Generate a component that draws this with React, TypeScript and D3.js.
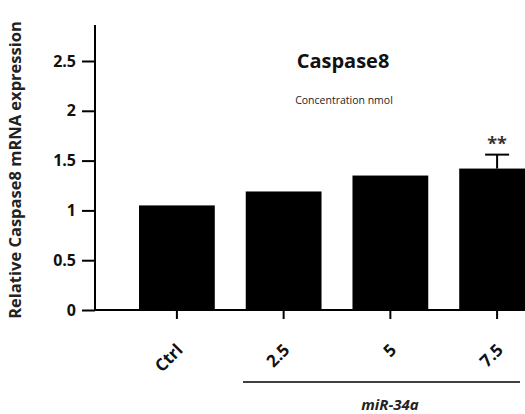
import React, { useEffect, useRef } from 'react';
import { select, scaleLinear, scaleBand, axisLeft, axisBottom } from 'd3';

// values
const categories = ['Ctrl', '2.5', '5', '7.5'];
const values = [1.05, 1.19, 1.35, 1.42];
const errors = [0, 0, 0, 0.14];
const significance = ['', '', '', '**'];
const yTicks = [0, 0.5, 1, 1.5, 2, 2.5];
const yTickLabels = ['0', '0.5', '1', '1.5', '2', '2.5'];
const groupLabel = 'miR-34a';

const W = 525;
const H = 414;

const App: React.FC = () => {
  const svgRef = useRef<SVGSVGElement | null>(null);

  useEffect(() => {
    if (!svgRef.current) return;
    const svg = select(svgRef.current);
    svg.selectAll('*').remove();

    const font = "'Open Sans', 'DejaVu Sans', sans-serif";
    const axisX = 95;
    const baseY = 310;

    const y = scaleLinear().domain([0, 2.5]).range([baseY, 61]);
    const x = scaleBand<string>()
      .domain(categories)
      .range([123, 551])
      .paddingInner(0.29)
      .paddingOuter(0.15);

    // bars
    svg.append('g')
      .selectAll('rect')
      .data(values)
      .enter()
      .append('rect')
      .attr('x', (_d, i) => x(categories[i]) as number)
      .attr('y', (d) => y(d))
      .attr('width', x.bandwidth())
      .attr('height', (d) => baseY - y(d))
      .attr('fill', '#000');

    // error bars (upper only)
    const eb = svg.append('g');
    values.forEach((v, i) => {
      if (!errors[i]) return;
      const cx = (x(categories[i]) as number) + x.bandwidth() / 2;
      eb.append('line')
        .attr('x1', cx).attr('x2', cx)
        .attr('y1', y(v)).attr('y2', y(v + errors[i]))
        .attr('stroke', '#000').attr('stroke-width', 2);
      eb.append('line')
        .attr('x1', cx - 12).attr('x2', cx + 12)
        .attr('y1', y(v + errors[i])).attr('y2', y(v + errors[i]))
        .attr('stroke', '#000').attr('stroke-width', 2);
      if (significance[i]) {
        eb.append('text')
          .attr('x', cx)
          .attr('y', y(v + errors[i]) - 5)
          .attr('text-anchor', 'middle')
          .attr('font-family', font)
          .attr('font-weight', 'bold')
          .attr('font-size', 18)
          .attr('fill', '#333')
          .text(significance[i]);
      }
    });

    // y axis
    const yAxis = axisLeft(y)
      .tickValues(yTicks)
      .tickFormat((_d, i) => yTickLabels[i])
      .tickSize(13)
      .tickPadding(6);
    const gy = svg.append('g')
      .attr('transform', `translate(${axisX},0)`)
      .call(yAxis);
    gy.select('.domain').remove();
    gy.append('line')
      .attr('x1', 0).attr('x2', 0)
      .attr('y1', 25).attr('y2', baseY + 1)
      .attr('stroke', '#000').attr('stroke-width', 2);
    gy.selectAll('.tick line').attr('stroke', '#000').attr('stroke-width', 2);
    gy.selectAll('.tick text')
      .attr('font-family', font)
      .attr('font-weight', 'bold')
      .attr('font-size', 16)
      .attr('fill', '#111');

    // x axis
    const xAxis = axisBottom(x).tickSize(9).tickPadding(0);
    const gx = svg.append('g')
      .attr('transform', `translate(0,${baseY})`)
      .call(xAxis);
    gx.select('.domain').remove();
    gx.append('line')
      .attr('x1', axisX - 1).attr('x2', W)
      .attr('y1', 0).attr('y2', 0)
      .attr('stroke', '#000').attr('stroke-width', 2);
    gx.selectAll('.tick line').attr('stroke', '#000').attr('stroke-width', 2);
    gx.selectAll('.tick text')
      .attr('font-family', font)
      .attr('font-weight', 'bold')
      .attr('font-size', 17)
      .attr('fill', '#111')
      .attr('text-anchor', 'end')
      .attr('dy', null)
      .attr('y', 0)
      .attr('transform', 'translate(7,41) rotate(-45)');

    // group line and label
    svg.append('line')
      .attr('x1', 243).attr('x2', 520)
      .attr('y1', 382).attr('y2', 382)
      .attr('stroke', '#000').attr('stroke-width', 1.5);
    svg.append('text')
      .attr('x', 390)
      .attr('y', 410)
      .attr('text-anchor', 'middle')
      .attr('font-family', font)
      .attr('font-weight', 'bold')
      .attr('font-style', 'italic')
      .attr('font-size', 15)
      .attr('fill', '#222')
      .text(groupLabel);

    // y label
    svg.append('text')
      .attr('transform', `translate(21,${170}) rotate(-90)`)
      .attr('text-anchor', 'middle')
      .attr('font-family', font)
      .attr('font-weight', 'bold')
      .attr('font-size', 16.5)
      .attr('fill', '#222')
      .text('Relative Caspase8 mRNA expression');

    // title and subtitle
    svg.append('text')
      .attr('x', 343)
      .attr('y', 68)
      .attr('text-anchor', 'middle')
      .attr('font-family', font)
      .attr('font-weight', 'bold')
      .attr('font-size', 20)
      .attr('fill', '#111')
      .text('Caspase8');
    svg.append('text')
      .attr('x', 344)
      .attr('y', 104)
      .attr('text-anchor', 'middle')
      .attr('font-family', font)
      .attr('font-size', 10.5)
      .attr('fill', '#222')
      .text('Concentration nmol');
  }, []);

  return (
    <svg
      ref={svgRef}
      width={W}
      height={H}
      style={{ position: 'absolute', left: 0, top: 0, background: '#fff' }}
    ></svg>
  );
};

export default App;
